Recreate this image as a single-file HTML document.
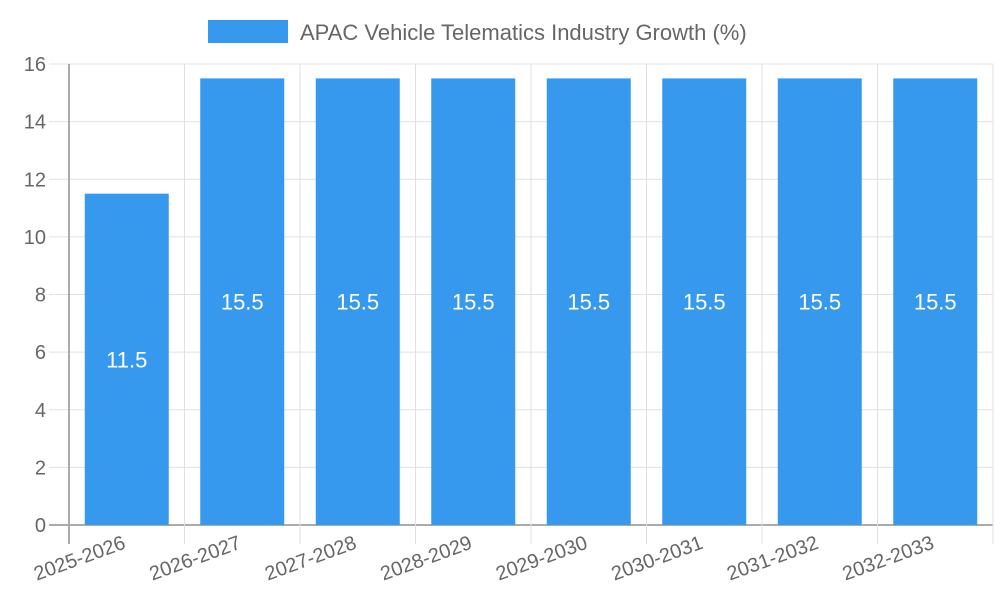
<!DOCTYPE html>
<html><head><meta charset="utf-8"><style>
body{margin:0;background:#fff;}
svg{display:block;font-family:"Liberation Sans",sans-serif;}
</style></head><body>
<svg id="chart" width="1000" height="600">
  <rect x="208" y="20" width="80" height="23" fill="#3799ee"/>
  <text x="300" y="40" font-size="22" fill="#666">APAC Vehicle Telematics Industry Growth (%)</text>
  <g id="grid"></g><g id="bars"></g><g id="labels"></g>
</svg>
<script>
const categories=["2025-2026","2026-2027","2027-2028","2028-2029","2029-2030","2030-2031","2031-2032","2032-2033"];
const values=[11.5,15.5,15.5,15.5,15.5,15.5,15.5,15.5];
const yTicks=[0,2,4,6,8,10,12,14,16];
const NS="http://www.w3.org/2000/svg";
const L=69,R=993,T=64,B=525,YMAX=16;
const bw=(R-L)/categories.length;
const y=v=>B-(v/YMAX)*(B-T);
const x=i=>L+i*bw;
function mk(tag,attrs,parent,txt){const e=document.createElementNS(NS,tag);for(const k in attrs)e.setAttribute(k,attrs[k]);if(txt!=null)e.textContent=txt;document.getElementById(parent).appendChild(e);return e;}
yTicks.forEach(t=>{
  const g=mk('line',{x1:49,x2:R,y1:y(t),y2:y(t),stroke:t===0?'#aaa':'#e0e0e0','stroke-width':t===0?2:1},'grid');
  
  
  const lb=mk('text',{x:46,y:y(t)+7,'text-anchor':'end','font-size':20,fill:'#666'},'labels',t);
  
  
});
for(let i=0;i<=categories.length;i++){
  const g=mk('line',{x1:x(i),x2:x(i),y1:T,y2:544,stroke:i===0?'#aaa':'#e0e0e0','stroke-width':i===0?2:1},'grid');
  
  
}
categories.forEach((c,i)=>{
  const cx=x(i)+bw/2;
  const bar=mk('rect',{x:cx-42,y:y(values[i]),width:84,height:B-y(values[i]),fill:'#3799ee'},'bars');
  
  
  const v=mk('text',{x:cx,y:(y(values[i])+B)/2+8,'text-anchor':'middle','font-size':22,fill:'#fff'},'labels',values[i]);
  
  
  const lb=mk('text',{x:cx,y:548,'text-anchor':'end','font-size':20,fill:'#666',transform:`rotate(-20 ${cx} 548)`},'labels',c);
  
  
});
</script>
</body></html>
